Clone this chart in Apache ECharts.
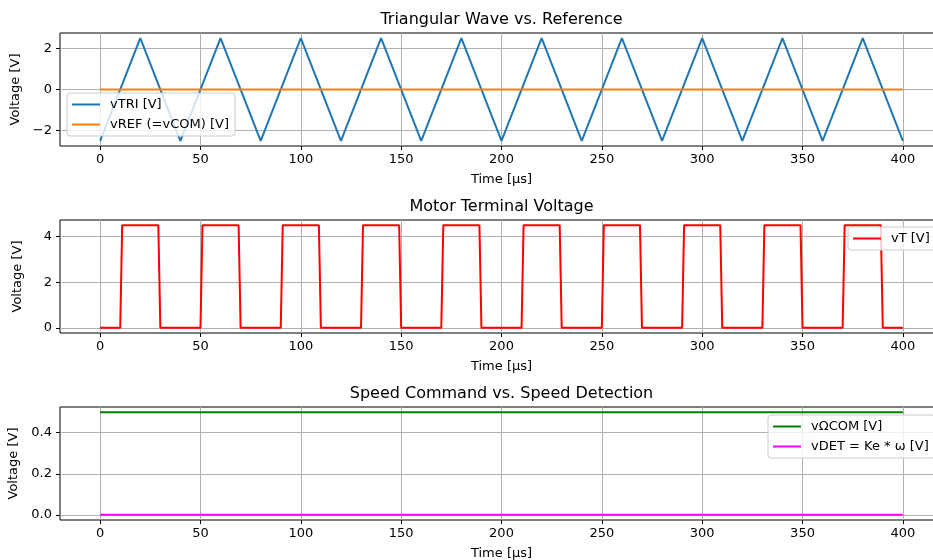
<!DOCTYPE html>
<html>
<head>
<meta charset="utf-8">
<script src="https://cdn.jsdelivr.net/npm/echarts@6/dist/echarts.min.js"></script>
<style>
html,body{margin:0;padding:0;background:#fff;}
#chart{width:933px;height:560px;}
</style>
</head>
<body>
<div id="chart"></div>
<script>
// ---- data ----
const triTimes = [0,20,40,60,80,100,120,140,160,180,200,220,240,260,280,300,320,340,360,380,400];
const triValues = [-2.5,2.5,-2.5,2.5,-2.5,2.5,-2.5,2.5,-2.5,2.5,-2.5,2.5,-2.5,2.5,-2.5,2.5,-2.5,2.5,-2.5,2.5,-2.5];
const refTimes = [0,400];
const refValues = [0,0];
const vtTimes = [0,10,11,29,30,50,51,69,70,90,91,109,110,130,131,149,150,170,171,189,190,210,211,229,230,250,251,269,270,290,291,309,310,330,331,349,350,370,371,389,390,400];
const vtValues = [0,0,4.5,4.5,0,0,4.5,4.5,0,0,4.5,4.5,0,0,4.5,4.5,0,0,4.5,4.5,0,0,4.5,4.5,0,0,4.5,4.5,0,0,4.5,4.5,0,0,4.5,4.5,0,0,4.5,4.5,0,0];
const cmdTimes = [0,400];
const cmdValues = [0.5,0.5];
const detTimes = [0,400];
const detValues = [0,0];
const xTicks = [0,50,100,150,200,250,300,350,400];
const yTicks1 = [-2,0,2];
const yTicks2 = [0,2,4];
const yTicks3 = [0,0.2,0.4];
const titles = ['Triangular Wave vs. Reference','Motor Terminal Voltage','Speed Command vs. Speed Detection'];
const names = ['vTRI [V]','vREF (=vCOM) [V]','vT [V]','vΩCOM [V]','vDET = Ke * ω [V]'];

function zip(a,b){return a.map((t,i)=>[t,b[i]]);}

const FONT = 'DejaVu Sans';
const gridTops = [33, 220, 407];
const gridH = 113;
const yRanges = [[-2.75,2.75],[-0.225,4.725],[-0.025,0.525]];
const yTickSets = [yTicks1,yTicks2,yTicks3];
const yFmt = [v=>v.toFixed(0).replace('-','\u2212'), v=>v.toFixed(0), v=>v.toFixed(1)];

const grids = gridTops.map(t=>({left:60,width:883,top:t,height:gridH,show:true,borderColor:'#000',borderWidth:1,
  backgroundColor:'transparent',outerBoundsMode:'none',containLabel:false}));

const xAxes = [0,1,2].map(i=>({
  type:'value', gridIndex:i, min:-20, max:420, splitNumber:9,
  name:'Time [μs]', nameLocation:'middle', nameGap:27,
  nameTextStyle:{fontFamily:FONT,fontSize:13,color:'#000'},
  axisLine:{show:false,onZero:false},
  axisTick:{show:true,inside:false,length:4,lineStyle:{color:'#000'},customValues:xTicks},
  axisLabel:{fontFamily:FONT,fontSize:13,color:'#000',margin:7,customValues:xTicks,formatter:v=>String(v)},
  splitLine:{show:true,lineStyle:{color:'#b0b0b0',width:1}}
}));

const yAxes = [0,1,2].map(i=>({
  type:'value', gridIndex:i, min:yRanges[i][0], max:yRanges[i][1], splitNumber:3,
  name:'Voltage [V]', nameLocation:'middle', nameGap:36, nameRotate:90,
  nameTextStyle:{fontFamily:FONT,fontSize:13,color:'#000'},
  axisLine:{show:false,onZero:false},
  axisTick:{show:true,inside:false,length:4,lineStyle:{color:'#000'},customValues:yTickSets[i]},
  axisLabel:{fontFamily:FONT,fontSize:13,color:'#000',margin:8,customValues:yTickSets[i],formatter:yFmt[i]},
  splitLine:{show:true,lineStyle:{color:'#b0b0b0',width:1}}
}));

function lineSeries(name,times,vals,color,idx){
  return {name:name,type:'line',xAxisIndex:idx,yAxisIndex:idx,data:zip(times,vals),
    showSymbol:false,symbol:'none',lineStyle:{color:color,width:2},itemStyle:{color:color},
    animation:false,clip:true};
}

const series = [
  lineSeries(names[0],triTimes,triValues,'#1f77b4',0),
  lineSeries(names[1],refTimes,refValues,'#ff7f0e',0),
  lineSeries(names[2],vtTimes,vtValues,'#ff0000',1),
  lineSeries(names[3],cmdTimes,cmdValues,'#008000',2),
  lineSeries(names[4],detTimes,detValues,'#ff00ff',2)
];

const legendBase = {orient:'vertical',icon:'rect',itemWidth:28,itemHeight:2,itemGap:5,
  backgroundColor:'rgba(255,255,255,0.8)',borderColor:'#cccccc',borderWidth:1,borderRadius:3,
  textStyle:{fontFamily:FONT,fontSize:13,color:'#000',lineHeight:15,padding:[0,0,0,5]},
  selectedMode:false};

const legends = [
  Object.assign({},legendBase,{data:[names[0],names[1]],left:67,top:93,padding:[4,6,4,5]}),
  Object.assign({},legendBase,{data:[names[2]],left:848,top:227,padding:[4,6,4,5]}),
  Object.assign({},legendBase,{data:[names[3],names[4]],left:768,top:415,padding:[4,6,4,5]})
];

const titleOpts = titles.map((t,i)=>({text:t,left:501.5,textAlign:'center',top:gridTops[i]-21,
  textStyle:{fontFamily:FONT,fontSize:16,fontWeight:'normal',color:'#000'},padding:0}));

const chart = echarts.init(document.getElementById('chart'),null,{renderer:'canvas'});
chart.setOption({
  animation:false,
  backgroundColor:'#fff',
  title:titleOpts,
  grid:grids,
  xAxis:xAxes,
  yAxis:yAxes,
  legend:legends,
  series:series
});
</script>
</body>
</html>
